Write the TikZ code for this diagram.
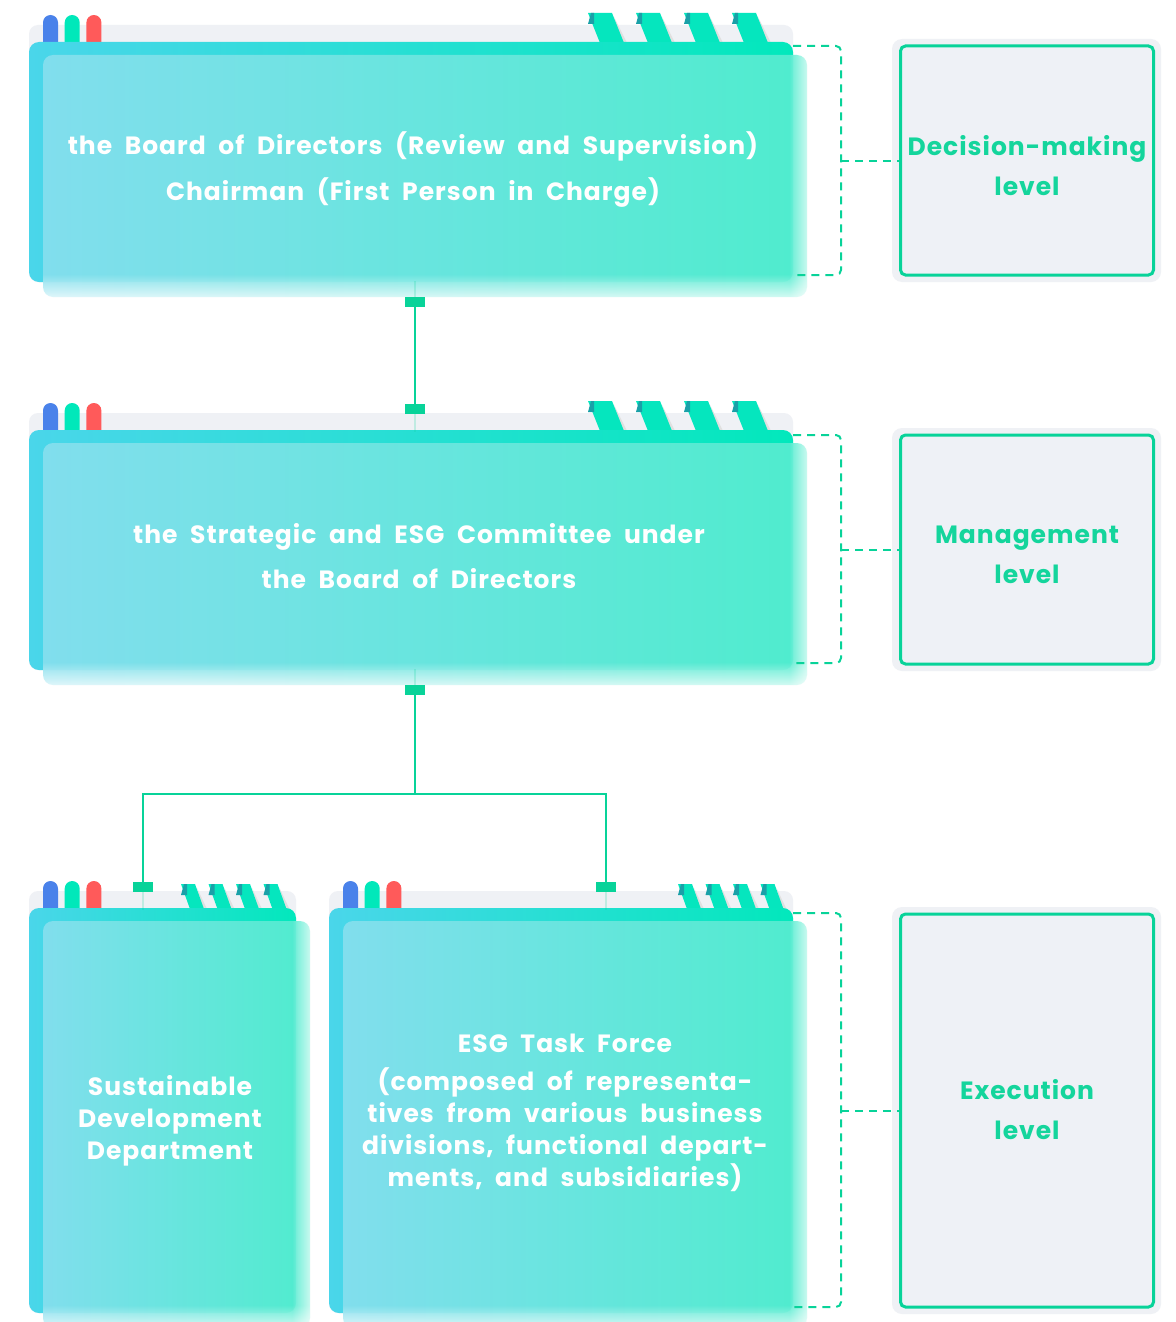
\documentclass[tikz,border=0pt]{standalone}
\usepackage{fontspec}
\setmainfont{Poppins}[LetterSpace=4, WordSpace=2]
\usetikzlibrary{fadings}
\definecolor{panelgray}{HTML}{EFF1F5}
\definecolor{tabblue}{HTML}{4A82EA}
\definecolor{tabgreen}{HTML}{00E8BA}
\definecolor{tabred}{HTML}{FF5A5A}
\definecolor{stripegreen}{HTML}{05E6BE}
\definecolor{stripedark}{HTML}{1AA0A8}
\definecolor{barL}{HTML}{4AD6EA}
\definecolor{barR}{HTML}{02E8BC}
\definecolor{frontL}{HTML}{86DFEE}
\definecolor{frontR}{HTML}{55EDD0}
\definecolor{lineg}{HTML}{08D399}
\definecolor{labfill}{HTML}{EEF1F6}
\definecolor{labtext}{HTML}{14D59C}
\tikzset{
  x=1pt, y=-1pt,
  cardtext/.style={text=white, align=center, font=\bfseries\fontsize{25}{46}\selectfont, inner sep=0pt},
  connsq/.style={fill=lineg, minimum width=20pt, minimum height=10pt, inner sep=0pt, draw=none},
  conn/.style={draw=lineg, line width=2.5pt},
  dashbr/.style={draw=lineg, line width=2pt, dash pattern=on 8pt off 6pt, rounded corners=5pt},
  labbox/.style={draw=lineg, line width=3pt, fill=labfill, rounded corners=5pt, minimum width=253pt},
  labtxt/.style={text=labtext, align=center, font=\bfseries\fontsize{25}{40}\selectfont, inner sep=0pt},
  labouter/.style={fill=panelgray, rounded corners=10pt}
}
% L T R B stripeStart spacing width height shift
\newcommand\orgcard[9]{%
  \fill[panelgray, rounded corners=9pt] (#1,#2-17) rectangle (#3,#4);
  \foreach \k/\c in {0/tabblue,1/tabgreen,2/tabred}
    \fill[\c, rounded corners=7.5pt] (#1+14+\k*21.7,#2-27) rectangle ++(15,40);
  \foreach \k in {0,...,3}{
    \fill[black!12] (#5+\k*#6+#7+2,#2-#8+4) -- (#5+\k*#6+#7+#9+3,#2+1) -- (#5+\k*#6+#7+#9-1,#2+1) -- cycle;
    \fill[stripegreen] (#5+\k*#6,#2-#8) -- ++(#7,0) -- (#5+\k*#6+#7+#9,#2+1) -- (#5+\k*#6+#9,#2+1) -- cycle;
    \fill[stripedark] (#5+\k*#6,#2-#8+11) -- (#5+\k*#6+3,#2-#8) -- (#5+\k*#6+6,#2-#8) -- (#5+\k*#6+6,#2-#8+11) -- cycle;
  }
  \shade[left color=barL, right color=barR, rounded corners=10pt] (#1,#2) rectangle (#3,#4);
  \shade[left color=frontL, right color=frontR, rounded corners=10pt, opacity=0.93] (#1+14,#2+13) rectangle (#3+14,#4+15);
  \fill[white, path fading=north, opacity=0.75] (#1+14,#4-8) rectangle (#3+14,#4+16);
  \fill[white, path fading=west, opacity=0.7] (#3-4,#2+13) rectangle (#3+15,#4+16);
}
\begin{document}
\begin{tikzpicture}
\useasboundingbox (0,0) rectangle (1175,1322);
\fill[white] (0,0) rectangle (1175,1322);

% cards
\orgcard{29}{42}{793}{282}{588}{48}{24}{29}{12}
\orgcard{29}{430}{793}{670}{588}{48}{24}{29}{12}
\orgcard{29}{908}{296}{1313}{181}{27.5}{14}{24}{9}
\orgcard{329}{908}{793}{1313}{678}{27.5}{14}{24}{9}

% card texts
\node[cardtext] (board) at (413,170) {the Board of Directors (Review and Supervision)\\Chairman (First Person in Charge)};
\node[cardtext, font=\bfseries\fontsize{25}{45}\selectfont] (committee) at (419,556) {the Strategic and ESG Committee under\\the Board of Directors};
\node[cardtext, font=\bfseries\fontsize{25}{32}\selectfont] (sdd) at (170,1121) {Sustainable\\Development\\Department};
\node[cardtext, font=\bfseries\fontsize{25}{32}\selectfont] (esg) at (565,1112.5) {ESG Task Force\\[6pt](composed of representa-\\tives from various business\\divisions, functional depart-\\ments, and subsidiaries)};

% level labels
\fill[labouter] (892,39) rectangle (1161,282);
\fill[labouter] (892,428) rectangle (1161,671);
\fill[labouter] (892,907) rectangle (1161,1314);
\node[labbox, minimum height=229pt] (lab1) at (1027,160.5) {};
\node[labbox, minimum height=229pt] (lab2) at (1027,549.5) {};
\node[labbox, minimum height=393pt] (lab3) at (1027,1110.5) {};
\node[labtxt] (lab1t) at (1027,166) {Decision-making\\level};
\node[labtxt] (lab2t) at (1027,555) {Management\\level};
\node[labtxt] (lab3t) at (1027,1110) {Execution\\level};

% dashed brackets
\coordinate (b1a) at (793,46); \coordinate (b1b) at (793,275);
\coordinate (b2a) at (793,435); \coordinate (b2b) at (793,663);
\coordinate (b3a) at (793,913); \coordinate (b3b) at (793,1307);
\draw[dashbr] (b1a) -- (841,46) -- (841,275) -- (b1b);
\draw[dashbr] (841,160.5) -- (lab1.west);
\draw[dashbr] (b2a) -- (841,435) -- (841,663) -- (b2b);
\draw[dashbr] (841,549.5) -- (lab2.west);
\draw[dashbr] (b3a) -- (841,913) -- (841,1307) -- (b3b);
\draw[dashbr] (841,1110.5) -- (lab3.west);

% connectors
\node[connsq] (s1) at (415,302) {};
\node[connsq] (s2) at (415,409) {};
\node[connsq] (s3) at (415,690) {};
\node[connsq] (s4) at (143,887) {};
\node[connsq] (s5) at (606,887) {};
\coordinate (j) at (415,794);
\draw[conn] (s1) -- (s2);
\draw[conn] (s3) -- (j);
\draw[conn] (j) -| (s4);
\draw[conn] (j) -| (s5);
\draw[lineg, line width=2.5pt, opacity=0.2] (s1.north) -- ++(0,-16) (s2.south) -- ++(0,18)
  (s3.north) -- ++(0,-16) (s4.south) -- ++(0,18) (s5.south) -- ++(0,18);
\end{tikzpicture}
\end{document}
